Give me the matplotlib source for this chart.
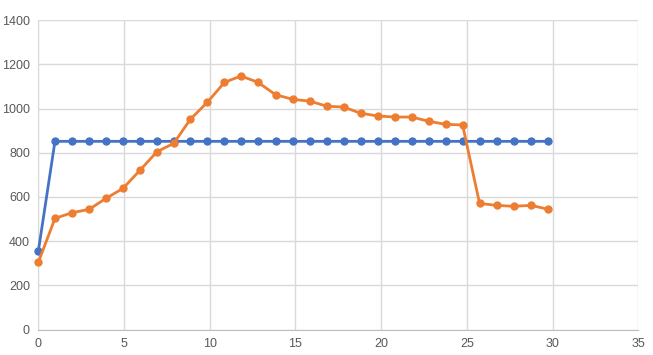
import matplotlib.pyplot as plt

# x positions (slightly under integer steps)
x_vals = [0, 0.97, 1.97, 2.96, 3.95, 4.94, 5.93, 6.92, 7.9, 8.87, 9.85,
          10.86, 11.82, 12.82, 13.84, 14.85, 15.84, 16.83, 17.82, 18.81, 19.8,
          20.79, 21.78, 22.77, 23.76, 24.75, 25.74, 26.73, 27.72, 28.76, 29.76]

blue_vals = [355] + [852] * 30

orange_vals = [304, 503, 529, 544, 594, 639, 721, 805, 843, 952, 1028,
               1119, 1148, 1119, 1063, 1042, 1034, 1011, 1007, 979, 967,
               962, 962, 943, 929, 926, 571, 562, 558, 562, 544]

x_ticks = [0, 5, 10, 15, 20, 25, 30, 35]
y_ticks = [0, 200, 400, 600, 800, 1000, 1200, 1400]

plt.rcParams['font.family'] = ['Liberation Sans', 'DejaVu Sans']

fig = plt.figure(figsize=(6.53, 3.55), dpi=100)
ax = fig.add_axes([0.0587, 0.0718, 0.9188, 0.871])

ax.plot(x_vals, blue_vals, color='#4472C4', linewidth=2.0, marker='o',
        markersize=5, zorder=3, clip_on=False)
ax.plot(x_vals, orange_vals, color='#ED7D31', linewidth=2.0, marker='o',
        markersize=5, zorder=4, clip_on=False)

ax.set_xlim(0, 35)
ax.set_ylim(0, 1400)
ax.set_xticks(x_ticks)
ax.set_yticks(y_ticks)
ax.grid(True, color='#D9D9D9', linewidth=1)
ax.set_axisbelow(True)
for side in ['top', 'right']:
    ax.spines[side].set_visible(False)
ax.spines['left'].set_color('#D9D9D9')
ax.spines['bottom'].set_color('#BFBFBF')
ax.tick_params(length=0, labelsize=9, labelcolor='#595959', pad=6)

fig.savefig('out.png', dpi=100)
